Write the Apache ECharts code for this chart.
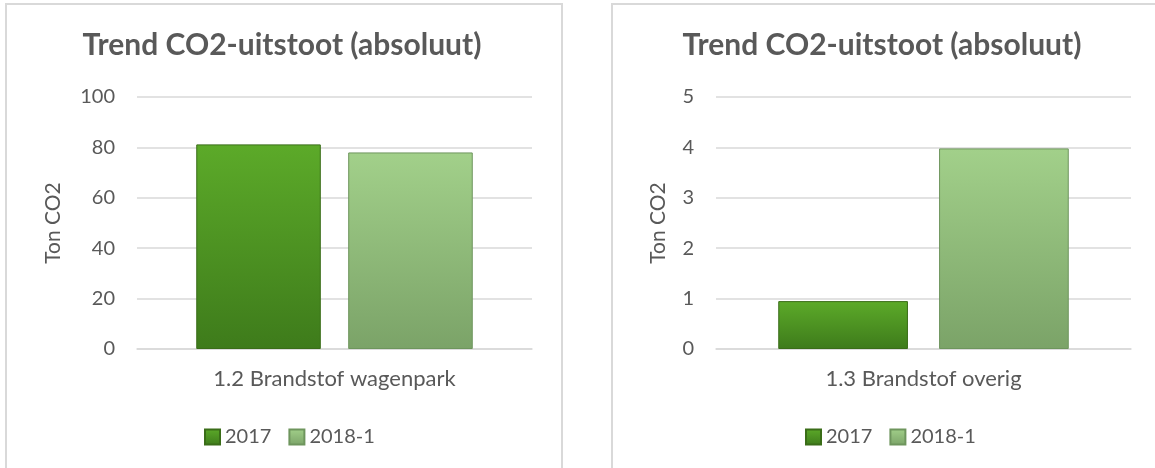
<!DOCTYPE html>
<html>
<head>
<meta charset="utf-8">
<title>Trend CO2-uitstoot</title>
<script src="https://cdn.jsdelivr.net/npm/echarts@6/dist/echarts.min.js"></script>
<style>
  html, body { margin: 0; padding: 0; background: #fff; }
  #chart { width: 1155px; height: 468px; }
</style>
</head>
<body>
<div id="chart"></div>
<script>
// data
const titleText = 'Trend CO2-uitstoot (absoluut)';
const yName = 'Ton CO2';
const seriesNames = ['2017', '2018-1'];
const categoriesLeft = ['1.2 Brandstof wagenpark'];
const categoriesRight = ['1.3 Brandstof overig'];
const left2017 = [81.2];
const left2018 = [78.0];
const right2017 = [0.95];
const right2018 = [3.98];
const ticksLeft = [0, 20, 40, 60, 80, 100];
const ticksRight = [0, 1, 2, 3, 4, 5];

const textColor = '#595959';
const gridColor = '#d9d9d9';
const font = 'Lato, "Open Sans", sans-serif';

// groen verloop zoals in Excel
const fill2017 = new echarts.graphic.LinearGradient(0, 0, 0, 1, [
  { offset: 0, color: '#5caa29' },
  { offset: 1, color: '#3e7b1b' }
]);
const fill2018 = new echarts.graphic.LinearGradient(0, 0, 0, 1, [
  { offset: 0, color: '#a2d08a' },
  { offset: 1, color: '#7ba368' }
]);

function yAxisFor(gridIndex, ticks, nameGap) {
  return {
    type: 'value',
    gridIndex: gridIndex,
    min: ticks[0],
    max: ticks[ticks.length - 1],
    interval: ticks[1] - ticks[0],
    name: yName,
    nameLocation: 'middle',
    nameGap: nameGap,
    nameRotate: 90,
    nameTextStyle: { color: textColor, fontSize: 21, fontFamily: font },
    axisLine: { show: false },
    axisTick: { show: false },
    axisLabel: { color: textColor, fontSize: 20, fontFamily: font, margin: 22 },
    splitLine: { lineStyle: { color: gridColor, width: 1.5 } }
  };
}

function xAxisFor(gridIndex, cats) {
  return {
    type: 'category',
    gridIndex: gridIndex,
    data: cats,
    axisLine: { lineStyle: { color: gridColor, width: 1.5 } },
    axisTick: { show: false },
    axisLabel: { color: textColor, fontSize: 22, fontFamily: font, margin: 19 }
  };
}

function barSeries(name, idx, data, fill, border, gap) {
  return {
    name: name,
    type: 'bar',
    xAxisIndex: idx,
    yAxisIndex: idx,
    data: data,
    barCategoryGap: '30%',
    barGap: gap,
    itemStyle: { color: fill, borderColor: border, borderWidth: 1 }
  };
}

const chart = echarts.init(document.getElementById('chart'));
chart.setOption({
  animation: false,
  title: [
    { text: titleText, left: 277, top: 25, textAlign: 'center',
      textStyle: { color: textColor, fontSize: 30, fontWeight: 'bold', fontFamily: font } },
    { text: titleText, left: 877, top: 25, textAlign: 'center',
      textStyle: { color: textColor, fontSize: 30, fontWeight: 'bold', fontFamily: font } }
  ],
  legend: [
    { data: seriesNames, left: 199, top: 422, itemWidth: 15, itemHeight: 15, itemGap: 17, icon: 'rect',
      textStyle: { color: textColor, fontSize: 20, fontFamily: font } },
    { data: seriesNames, left: 800, top: 422, itemWidth: 15, itemHeight: 15, itemGap: 17, icon: 'rect',
      textStyle: { color: textColor, fontSize: 20, fontFamily: font } }
  ],
  grid: [
    { left: 137, top: 97, width: 395, height: 252 },
    { left: 716, top: 97, width: 415, height: 252 }
  ],
  xAxis: [xAxisFor(0, categoriesLeft), xAxisFor(1, categoriesRight)],
  yAxis: [yAxisFor(0, ticksLeft, 73), yAxisFor(1, ticksRight, 47)],
  series: [
    barSeries(seriesNames[0], 0, left2017, fill2017, '#3a6d18', '22%'),
    barSeries(seriesNames[1], 0, left2018, fill2018, '#6e955d', '22%'),
    barSeries(seriesNames[0], 1, right2017, fill2017, '#3a6d18', '24%'),
    barSeries(seriesNames[1], 1, right2018, fill2018, '#6e955d', '24%')
  ],
  graphic: [
    { type: 'rect', shape: { x: 6, y: 4, width: 556, height: 490 },
      style: { fill: 'none', stroke: gridColor, lineWidth: 2 }, silent: true },
    { type: 'rect', shape: { x: 612, y: 4, width: 560, height: 490 },
      style: { fill: 'none', stroke: gridColor, lineWidth: 2 }, silent: true }
  ]
});
</script>
</body>
</html>
